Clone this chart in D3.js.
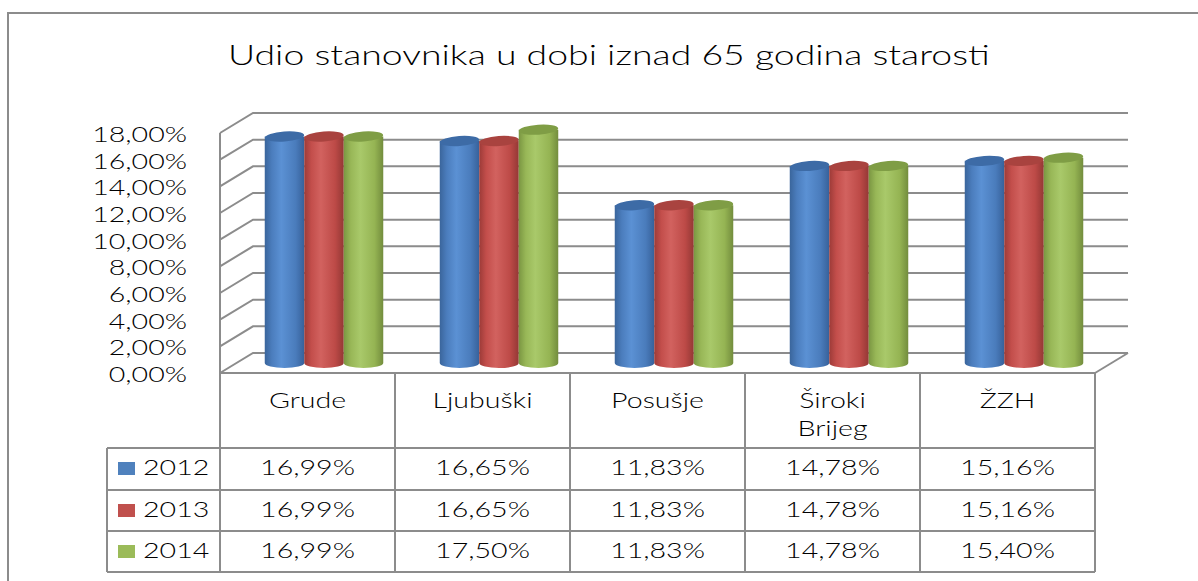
<!DOCTYPE html>
<html>
<head>
<meta charset="utf-8">
<script src="https://cdn.jsdelivr.net/npm/d3@7"></script>
<style>
  body { margin: 0; background: #fff; }
  text { font-family: Lato, "Open Sans", sans-serif; font-weight: 300; fill: #000; }
</style>
</head>
<body>
<div id="chart"></div>
<script>
// data
let categories = ['Grude', 'Ljubuški', 'Posušje', 'Široki Brijeg', 'ŽZH']
let categoryLines = [['Grude'], ['Ljubuški'], ['Posušje'], ['Široki', 'Brijeg'], ['ŽZH']]
let years = ['2012', '2013', '2014']
let values2012 = [16.99, 16.65, 11.83, 14.78, 15.16]
let values2013 = [16.99, 16.65, 11.83, 14.78, 15.16]
let values2014 = [16.99, 17.50, 11.83, 14.78, 15.40]
let yTicks = [0, 2, 4, 6, 8, 10, 12, 14, 16, 18]
let title = 'Udio stanovnika u dobi iznad 65 godina starosti'

let series = [values2012, values2013, values2014]
let colors = [
    ['#3a659b', '#4b7dbd', '#5b91d4', '#4a7cbc', '#37619a'],
    ['#9c3b38', '#c34e4b', '#d2625f', '#bd4a47', '#943835'],
    ['#7a9642', '#98b757', '#a9c96a', '#95b453', '#738d3d']
]
let topColors = ['#3d6ba6', '#a9433f', '#7f9d45']
let keyColors = ['#4f81bd', '#c0504d', '#9bbb59']

let width = 1198, height = 581
let SX = 1.3   // the picture is stretched sideways
let DX = 33, DY = -20
let gridColor = '#8c8c8c'

let svg = d3.select('#chart').append('svg')
    .attr('width', width)
    .attr('height', height)

let defs = svg.append('defs')
colors.forEach(function(c, i){
    let grad = defs.append('linearGradient')
        .attr('id', 'cyl' + i)
        .attr('x1', '0').attr('x2', '1').attr('y1', '0').attr('y2', '0')
    let offs = [0, 0.18, 0.42, 0.78, 1]
    c.forEach(function(col, k){
        grad.append('stop').attr('offset', offs[k]).attr('stop-color', col)
    })
})

// outer frame
svg.append('rect')
    .attr('x', 8).attr('y', 13)
    .attr('width', 1300).attr('height', 700)
    .attr('fill', 'none')
    .attr('stroke', gridColor)
    .attr('stroke-width', 2)

function addText(x, y, str, size, anchor, sx){
    return svg.append('text')
        .attr('transform', 'translate(' + x + ',' + y + ') scale(' + (sx || SX) + ',1)')
        .attr('text-anchor', anchor)
        .attr('font-size', size)
        .text(str)
}

addText(609, 65, title, 27, 'middle', 1.385)

let xScale = d3.scaleBand().domain(categories).range([220, 1095])
let yScale = d3.scaleLinear().domain([0, 18]).range([373, 133])

// walls
let walls = svg.append('g')
    .attr('fill', 'none')
    .attr('stroke', gridColor)
    .attr('stroke-width', 2)

yTicks.forEach(function(t){
    let y = yScale(t)
    walls.append('path')
        .attr('d', 'M' + xScale.range()[0] + ',' + y + 'L' + (xScale.range()[0] + DX) + ',' + (y + DY) + 'L' + (xScale.range()[1] + DX) + ',' + (y + DY))
})
walls.append('path')
    .attr('d', 'M220,' + yScale(18) + 'L220,' + yScale(0))
walls.append('path')
    .attr('d', 'M1095,' + yScale(0) + 'L' + (1095 + DX) + ',' + (yScale(0) + DY))

// y labels
yTicks.forEach(function(t){
    addText(187, yScale(t) + 9, t.toFixed(2).replace('.', ',') + '%', 22, 'end')
})

// cylinders
let cw = 39.5, rx = cw / 2, ry = 5
let bars = svg.append('g')
categories.forEach(function(cat, i){
    let center = xScale(cat) + xScale.bandwidth() / 2 + DX / 2
    series.forEach(function(vals, j){
        let left = center + (j - 1.5) * cw
        let right = left + cw
        let yTop = yScale(vals[i]) + DY / 2
        let yBot = yScale(0) + DY / 2
        bars.append('path')
            .attr('d', 'M' + left + ',' + yTop + 'L' + left + ',' + yBot +
                'A' + rx + ',' + ry + ' 0 0 0 ' + right + ',' + yBot +
                'L' + right + ',' + yTop + 'Z')
            .attr('fill', 'url(#cyl' + j + ')')
        bars.append('ellipse')
            .attr('cx', left + rx)
            .attr('cy', yTop)
            .attr('rx', rx)
            .attr('ry', ry)
            .attr('transform', 'rotate(-4,' + (left + rx) + ',' + yTop + ')')
            .attr('fill', topColors[j])
    })
})

// data table
let rowTops = [448, 490, 531, 572]
let table = svg.append('g')
    .attr('stroke', gridColor)
    .attr('stroke-width', 2)
    .attr('fill', 'none')

table.append('line').attr('x1', 220).attr('x2', 1095).attr('y1', 373).attr('y2', 373)
rowTops.forEach(function(y){
    table.append('line').attr('x1', 107).attr('x2', 1095).attr('y1', y).attr('y2', y)
})
categories.forEach(function(cat){
    table.append('line').attr('x1', xScale(cat)).attr('x2', xScale(cat)).attr('y1', 373).attr('y2', 572)
})
table.append('line').attr('x1', 1095).attr('x2', 1095).attr('y1', 373).attr('y2', 572)
table.append('line').attr('x1', 107).attr('x2', 107).attr('y1', 448).attr('y2', 572)

categoryLines.forEach(function(lines, i){
    let cx = xScale(categories[i]) + xScale.bandwidth() / 2
    lines.forEach(function(l, k){
        addText(cx, 408 + k * 28, l, 22, 'middle')
    })
})

series.forEach(function(vals, j){
    let yb = rowTops[j] + 27
    svg.append('rect')
        .attr('x', 118).attr('y', rowTops[j] + 14)
        .attr('width', 17).attr('height', 13)
        .attr('fill', keyColors[j])
    addText(143, yb, years[j], 22, 'start')
    vals.forEach(function(v, i){
        addText(xScale(categories[i]) + xScale.bandwidth() / 2, yb, v.toFixed(2).replace('.', ',') + '%', 22, 'middle')
    })
})
</script>
</body>
</html>
